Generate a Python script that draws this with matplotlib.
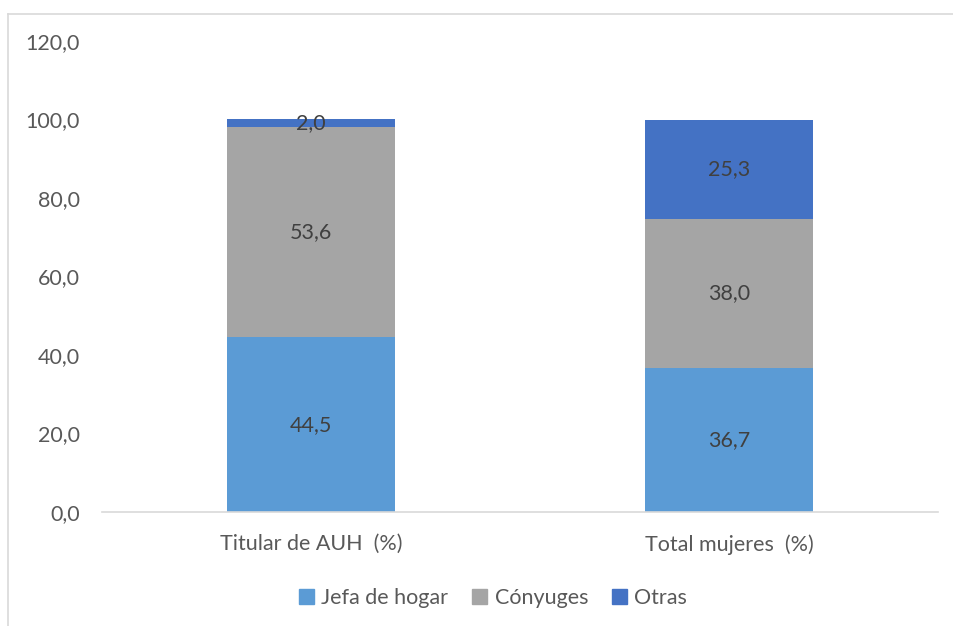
import matplotlib
matplotlib.use("Agg")
import matplotlib.pyplot as plt
from matplotlib.patches import Rectangle
from matplotlib.lines import Line2D

categories = ["Titular de AUH  (%)", "Total mujeres  (%)"]
jefa = [44.5, 36.7]
conyuges = [53.6, 38.0]
otras = [2.0, 25.3]
series_names = ["Jefa de hogar", "Cónyuges", "Otras"]
colors = ["#5B9BD5", "#A5A5A5", "#4472C4"]
yticks = [0, 20, 40, 60, 80, 100, 120]

plt.rcParams['font.family'] = ['Lato', 'DejaVu Sans']
FS = 15.5

fig = plt.figure(figsize=(9.54, 6.26), dpi=100)
ax = fig.add_axes([102/954, 1-512/626, 836/954, 471/626])

x = list(range(len(categories)))
width = 0.4
bottom = [0.0]*len(categories)
for vals, name, c in zip([jefa, conyuges, otras], series_names, colors):
    ax.bar(x, vals, width, bottom=bottom, color=c, label=name, zorder=2)
    for xi, v, b in zip(x, vals, bottom):
        ax.text(xi, b + v/2, f"{v:.1f}".replace(".", ","), ha="center", va="center",
                fontsize=FS, color="#404040", zorder=3)
    bottom = [b + v for b, v in zip(bottom, vals)]

ax.set_xlim(-0.5, 1.5)
ax.set_ylim(0, 120)
ax.set_yticks(yticks)
ax.set_yticklabels([f"{t:.1f}".replace(".", ",") for t in yticks])
ax.set_xticks(x)
ax.set_xticklabels(categories)
for s in ["top", "right", "left"]:
    ax.spines[s].set_visible(False)
ax.spines["bottom"].set_color("#D9D9D9")
ax.spines["bottom"].set_linewidth(1.2)
ax.tick_params(axis="both", length=0, labelsize=FS, labelcolor="#595959")
ax.tick_params(axis="y", pad=16)
ax.tick_params(axis="x", pad=16)

handles = [Rectangle((0, 0), 1, 1, color=c) for c in colors]
fig.legend(handles, series_names, loc="center", bbox_to_anchor=(493/954, 1-598/626),
           ncol=3, frameon=False, fontsize=FS, labelcolor="#595959",
           handlelength=0.7, handleheight=0.7, handletextpad=0.35, columnspacing=1.1)

# chart frame (left and top edges visible)
fig.add_artist(Line2D([8/954, 8/954], [0, 1-14/626], transform=fig.transFigure,
                      color="#D9D9D9", lw=1.2))
fig.add_artist(Line2D([8/954, 1], [1-14/626, 1-14/626], transform=fig.transFigure,
                      color="#D9D9D9", lw=1.2))

fig.savefig("out.png", dpi=100)
